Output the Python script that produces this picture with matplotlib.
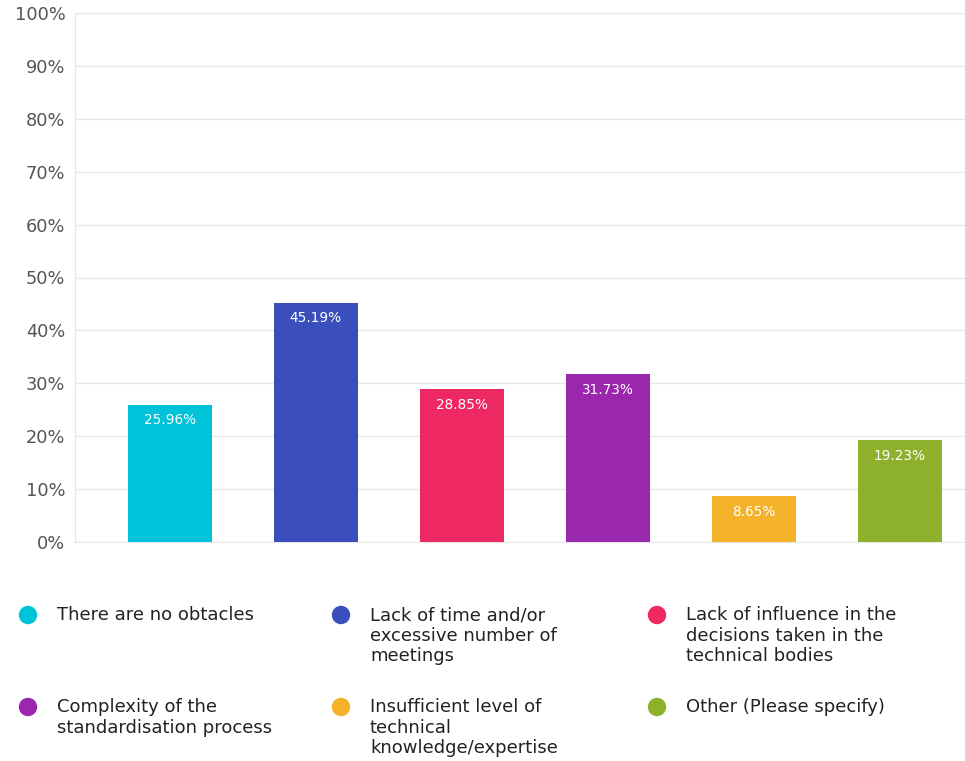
import matplotlib.pyplot as plt
from matplotlib.patches import Ellipse

categories = ["There are no obtacles",
              "Lack of time and/or\nexcessive number of\nmeetings",
              "Lack of influence in the\ndecisions taken in the\ntechnical bodies",
              "Complexity of the\nstandardisation process",
              "Insufficient level of\ntechnical\nknowledge/expertise",
              "Other (Please specify)"]
values = [25.96, 45.19, 28.85, 31.73, 8.65, 19.23]
colors = ["#00C2D9", "#3A4FBB", "#EE2862", "#9B27AF", "#F4B12A", "#8DB12B"]
yticks = [0, 10, 20, 30, 40, 50, 60, 70, 80, 90, 100]

plt.rcParams['font.family'] = ['DejaVu Sans']

W, H = 965, 761
fig = plt.figure(figsize=(W/100, H/100), dpi=100)
# axes area in pixels: left 75, right 965, top 13, bottom 542
ax = fig.add_axes([75/W, 1 - 542/H, 890/W, (542-13)/H])

x = list(range(len(values)))
bars = ax.bar(x, values, width=0.575, color=colors, zorder=3)

for b, v in zip(bars, values):
    ax.text(b.get_x() + b.get_width()/2, v - 1.6, f"{v:.2f}%", color="white",
            ha="center", va="top", fontsize=9.8, zorder=4)

ax.set_xlim(-0.65, 5.445)
ax.set_ylim(0, 100)
ax.set_yticks(yticks)
ax.set_yticklabels([f"{t}%" for t in yticks], fontsize=12.8, color="#555555")
ax.set_xticks([])
ax.tick_params(axis='y', length=0, pad=7)
ax.grid(axis='y', color="#E8E8E8", linewidth=1, zorder=0)
for s in ["top", "right"]:
    ax.spines[s].set_visible(False)
ax.spines["left"].set_color("#E8E8E8")
ax.spines["bottom"].set_color("#E8E8E8")

# legend drawn manually in three columns
col_x = [28, 341, 657]
row_y = [615, 707]
r = 8.5
for i, (lab, c) in enumerate(zip(categories, colors)):
    px = col_x[i % 3]
    py = row_y[i // 3]
    fig.patches.append(Ellipse((px/W, 1 - py/H), 2*r/W, 2*r/H, color=c,
                               transform=fig.transFigure, figure=fig))
    fig.text((px + 29)/W, 1 - (py - 9)/H, lab, fontsize=13, color="#222222",
             ha="left", va="top", linespacing=1.18)

fig.savefig("out.png", dpi=100)
